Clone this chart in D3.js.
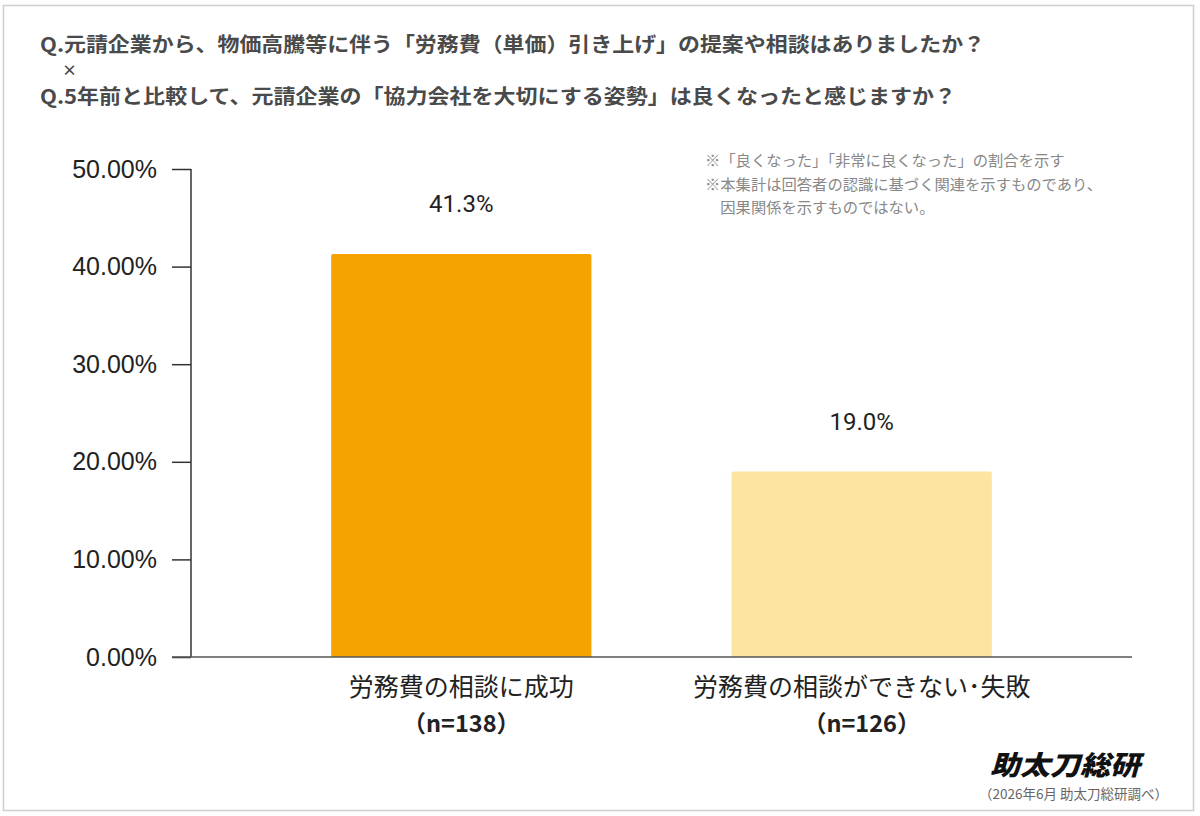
<!DOCTYPE html>
<html><head><meta charset="utf-8">
<script src="https://cdn.jsdelivr.net/npm/d3@7/dist/d3.min.js"></script>
<style>
html,body{margin:0;padding:0;background:#fff;}
svg{display:block;}
</style></head>
<body><svg id="chart" width="1200" height="816"></svg>
<script>
const titleLines = ["Q.元請企業から、物価高騰等に伴う「労務費（単価）引き上げ」の提案や相談はありましたか？", "×", "Q.5年前と比較して、元請企業の「協力会社を大切にする姿勢」は良くなったと感じますか？"];
const categories = ["労務費の相談に成功", "労務費の相談ができない･失敗"];
const sampleSizes = ["（n=138）", "（n=126）"];
const values = [41.3, 19.0];
const valueLabels = ["41.3%", "19.0%"];
const barColors = ["#F5A300", "#FDE4A1"];
const yTicks = [0, 10, 20, 30, 40, 50];
const notes = ["※「良くなった」「非常に良くなった」の割合を示す", "※本集計は回答者の認識に基づく関連を示すものであり、", "　因果関係を示すものではない。"];
const logoText = "助太刀総研";
const sourceText = "（2026年6月 助太刀総研調べ）";

const svg = d3.select("#chart");
const JP = "'Noto Sans CJK JP','Noto Sans',sans-serif";

// frame
svg.append("rect").attr("x", 3.5).attr("y", 5.5).attr("width", 1190).attr("height", 805)
  .attr("fill", "#fff").attr("stroke", "#cfcfcf").attr("stroke-width", 1.5);

// titles
const tY = [52, 76, 104];
const tX = [40, 62, 40];
const tW = [945, null, 916];
titleLines.forEach((t, i) => {
  const el = svg.append("text").attr("x", tX[i]).attr("y", tY[i])
    .attr("font-family", JP).attr("font-weight", 700)
    .attr("font-size", i === 1 ? 15 : 20).attr("fill", "#4a4a4a").text(t);
  if (tW[i]) el.attr("textLength", tW[i]).attr("lengthAdjust", "spacingAndGlyphs");
});

// scales
const x = d3.scaleBand().domain(categories).range([191, 1132]).paddingInner(0.35).paddingOuter(0.35);
const y = d3.scaleLinear().domain([0, 50]).range([657, 169]);

// bars
svg.selectAll("path.bar").data(values).enter().append("path")
  .attr("class", "bar")
  .attr("fill", (d, i) => barColors[i])
  .attr("d", (d, i) => {
    const x0 = x(categories[i]), w = x.bandwidth(), y0 = y(d), y1 = y(0), r = 2;
    return `M${x0},${y1}V${y0 + r}Q${x0},${y0} ${x0 + r},${y0}H${x0 + w - r}Q${x0 + w},${y0} ${x0 + w},${y0 + r}V${y1}Z`;
  });

// y axis
const yAxis = d3.axisLeft(y).tickValues(yTicks).tickSize(19).tickPadding(15)
  .tickFormat(d => d.toFixed(2) + "%");
const gy = svg.append("g").attr("transform", "translate(191,0)").call(yAxis);
gy.select(".domain").attr("stroke", "#333").attr("stroke-width", 1.5).attr("d", `M0,${y(50)}V${y(0)}`);
gy.selectAll(".tick line").attr("stroke", "#333").attr("stroke-width", 1.5);
gy.selectAll(".tick text").attr("font-family", "'Liberation Sans',Arial,sans-serif")
  .attr("font-size", 25).attr("fill", "#222");

// baseline
svg.append("line").attr("x1", 172).attr("x2", 1132).attr("y1", y(0)).attr("y2", y(0))
  .attr("stroke", "#555").attr("stroke-width", 1.5);

// value labels
svg.selectAll("text.val").data(values).enter().append("text")
  .attr("class", "val")
  .attr("x", (d, i) => x(categories[i]) + x.bandwidth() / 2)
  .attr("y", d => y(d) - 42)
  .attr("text-anchor", "middle")
  .attr("font-family", "Roboto,'Open Sans',sans-serif").attr("font-size", 24).attr("fill", "#222")
  .text((d, i) => valueLabels[i]);

// category labels
categories.forEach((c, i) => {
  const cx = x(c) + x.bandwidth() / 2;
  svg.append("text").attr("x", cx).attr("y", 696).attr("text-anchor", "middle")
    .attr("font-family", JP).attr("font-size", 25).attr("fill", "#222").text(c);
  svg.append("text").attr("x", cx).attr("y", 732).attr("text-anchor", "middle")
    .attr("font-family", JP).attr("font-weight", 700).attr("font-size", 23.5).attr("fill", "#222").text(sampleSizes[i]);
});

// notes
notes.forEach((n, i) => {
  svg.append("text").attr("x", 705).attr("y", 166 + i * 23.5)
    .attr("font-family", JP).attr("font-size", 15.3).attr("fill", "#888").text(n);
});

// logo
svg.append("text").attr("x", 1140).attr("y", 775).attr("text-anchor", "end")
  .attr("font-family", JP).attr("font-weight", 900).attr("font-style", "italic")
  .attr("font-size", 27).attr("fill", "#111")
  .attr("textLength", 150).attr("lengthAdjust", "spacingAndGlyphs")
  .text(logoText);

svg.append("text").attr("x", 1168).attr("y", 799).attr("text-anchor", "end")
  .attr("font-family", JP).attr("font-size", 13.5).attr("fill", "#666").text(sourceText);
</script>
</body></html>
